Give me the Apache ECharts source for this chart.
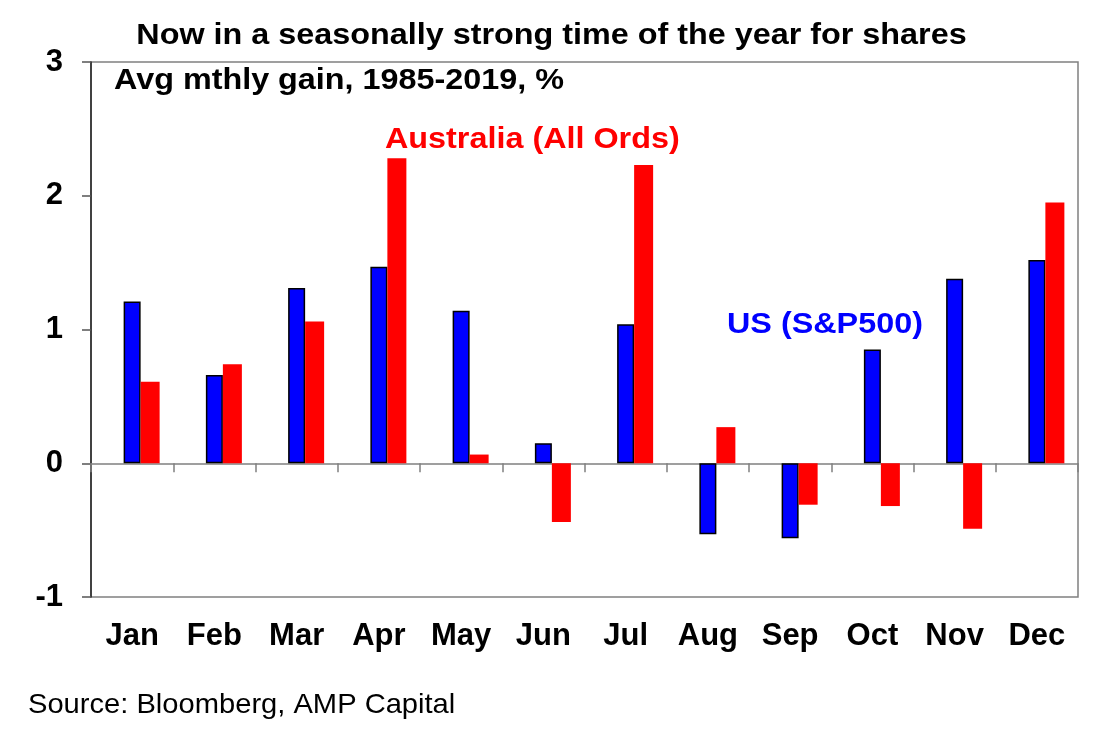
<!DOCTYPE html>
<html><head><meta charset="utf-8">
<script src="https://cdn.jsdelivr.net/npm/echarts@6/dist/echarts.min.js"></script>
<style>html,body{margin:0;padding:0;background:#fff}#c{width:1096px;height:746px}</style>
</head><body><div id="c"></div>
<script>
var months = ['Jan','Feb','Mar','Apr','May','Jun','Jul','Aug','Sep','Oct','Nov','Dec'];
var usValues = [1.21, 0.66, 1.31, 1.47, 1.14, 0.15, 1.04, -0.53, -0.56, 0.85, 1.38, 1.52];
var auValues = [0.61, 0.74, 1.06, 2.28, 0.065, -0.44, 2.23, 0.27, -0.31, -0.32, -0.49, 1.95];
var yTicks = [-1, 0, 1, 2, 3];
var spacer = months.map(function(){ return null; });
var F = '"Liberation Sans", Arial, sans-serif';
var SX = 1.078;
var chart = echarts.init(document.getElementById('c'));
chart.setOption({
  animation: false,
  backgroundColor: '#fff',
  grid: { left: 91, right: 18, top: 62, bottom: 149, show: true, borderColor: '#808080', borderWidth: 1.5, containLabel: false },
  graphic: [
    { type: 'text', x: 551.5, y: 36, scaleX: SX, style: { text: 'Now in a seasonally strong time of the year for shares', font: 'bold 30px ' + F, fill: '#000', align: 'center', verticalAlign: 'middle' } },
    { type: 'text', x: 114, y: 81, scaleX: SX, style: { text: 'Avg mthly gain, 1985-2019, %', font: 'bold 30px ' + F, fill: '#000', align: 'left', verticalAlign: 'middle' } },
    { type: 'text', x: 385, y: 140, scaleX: SX, style: { text: 'Australia (All Ords)', font: 'bold 30px ' + F, fill: '#ff0000', align: 'left', verticalAlign: 'middle' } },
    { type: 'text', x: 727, y: 325, scaleX: SX, style: { text: 'US (S&P500)', font: 'bold 30px ' + F, fill: '#0000ff', align: 'left', verticalAlign: 'middle' } },
    { type: 'text', x: 28, y: 705, scaleX: 1.04, style: { text: 'Source: Bloomberg, AMP Capital', font: 'normal 28px ' + F, fill: '#000', align: 'left', verticalAlign: 'middle' } }
  ],
  xAxis: [
    { type: 'category', data: months, position: 'bottom', axisLine: { show: false, onZero: false },
      axisTick: { show: false }, axisLabel: { margin: 24, fontFamily: F, fontWeight: 'bold', fontSize: 31, color: '#000' } },
    { type: 'category', data: months, position: 'bottom', axisLine: { show: true, onZero: true, lineStyle: { color: '#808080', width: 1.5 } },
      axisTick: { show: true, inside: false, length: 9, lineStyle: { color: '#808080', width: 1.5 } }, axisLabel: { show: false } }
  ],
  yAxis: {
    type: 'value', min: yTicks[0], max: yTicks[yTicks.length - 1], interval: 1,
    axisLine: { show: true, lineStyle: { color: '#222', width: 1.5 } },
    axisTick: { show: true, length: 9, lineStyle: { color: '#555', width: 1.5 } },
    splitLine: { show: false },
    axisLabel: { margin: 28, fontFamily: F, fontWeight: 'bold', fontSize: 31, color: '#000' }
  },
  series: [
    { name: 'spacer', type: 'bar', data: spacer, barWidth: 19, barGap: '0%', silent: true, itemStyle: { color: 'rgba(0,0,0,0)' } },
    { name: 'US (S&P500)', type: 'bar', data: usValues, barWidth: 17, barGap: '0%',
      itemStyle: { color: '#0000ff', borderColor: '#000', borderWidth: 1.5 } },
    { name: 'Australia (All Ords)', type: 'bar', data: auValues, barWidth: 19, barGap: '0%',
      itemStyle: { color: '#ff0000' } }
  ]
});
</script></body></html>
